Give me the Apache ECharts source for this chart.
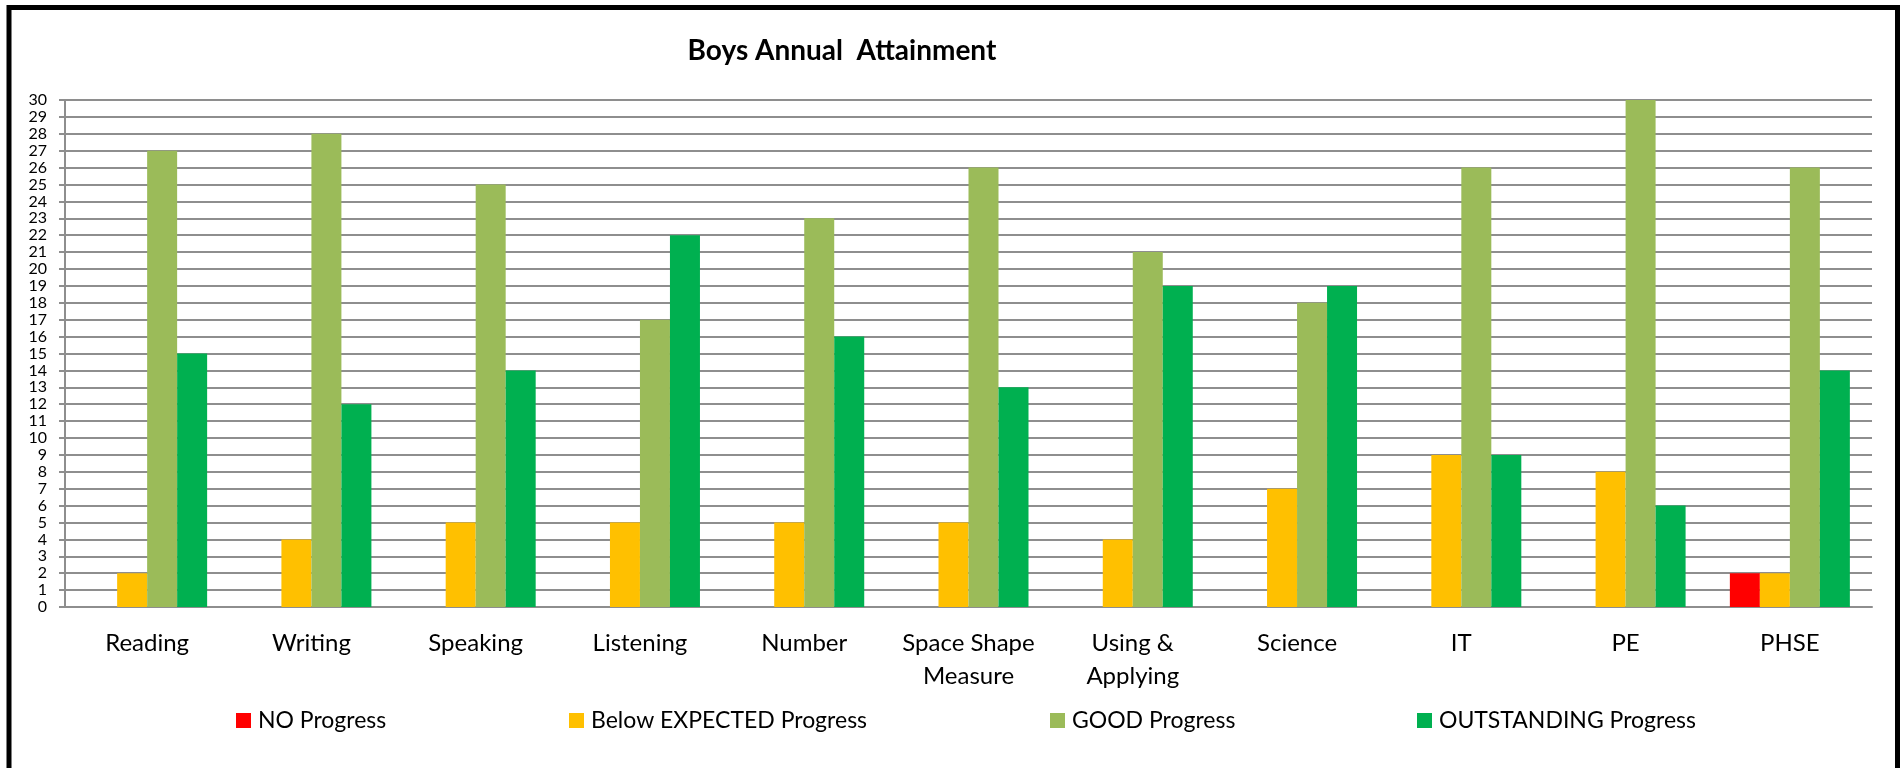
<!DOCTYPE html>
<html>
<head>
<meta charset="utf-8">
<title>Boys Annual Attainment</title>
<script src="https://cdn.jsdelivr.net/npm/echarts/dist/echarts.min.js"></script>
<style>
  html, body { margin: 0; padding: 0; background: #fff; }
  #chart { width: 1903px; height: 768px; }
</style>
</head>
<body>
<div id="chart"></div>
<script>
const categories = ['Reading', 'Writing', 'Speaking', 'Listening', 'Number', 'Space Shape\nMeasure',
  'Using &\nApplying', 'Science', 'IT', 'PE', 'PHSE']
const noProgress = [0, 0, 0, 0, 0, 0, 0, 0, 0, 0, 2]
const belowExpected = [2, 4, 5, 5, 5, 5, 4, 7, 9, 8, 2]
const goodProgress = [27, 28, 25, 17, 23, 26, 21, 18, 26, 30, 26]
const outstanding = [15, 12, 14, 22, 16, 13, 19, 19, 9, 6, 14]
const seriesNames = ['NO Progress', 'Below EXPECTED Progress', 'GOOD Progress', 'OUTSTANDING Progress']
const colors = ['#ff0000', '#ffc000', '#9bbb59', '#00b050']

const font = 'Lato, "Open Sans", sans-serif'
const gridColor = '#8e8e8e'

// legend items sit in fixed spots like the excel one
const legendLeft = [231, 564, 1045, 1412]

const chart = echarts.init(document.getElementById('chart'))

const option = {
  animation: false,
  title: {
    text: 'Boys Annual  Attainment',
    left: 837,
    top: 32,
    textAlign: 'center',
    textStyle: { fontFamily: font, fontWeight: 'bold', fontSize: 28, color: '#000' },
  },
  legend: seriesNames.map((name, i) => ({
    data: [name],
    left: legendLeft[i],
    top: 704,
    icon: 'rect',
    itemWidth: 15,
    itemHeight: 15,
    itemGap: 0,
    textStyle: { fontFamily: font, fontSize: 23, color: '#000', padding: [0, 0, 0, 2] },
  })),
  grid: { left: 65, right: 31, top: 100, bottom: 161 },
  xAxis: {
    type: 'category',
    data: categories,
    axisLine: { lineStyle: { color: gridColor, width: 2 } },
    axisTick: { show: false },
    axisLabel: { fontFamily: font, fontSize: 24, color: '#000', margin: 20, lineHeight: 33, interval: 0 },
  },
  yAxis: {
    type: 'value',
    min: 0,
    max: 30,
    interval: 1,
    axisLine: { show: true, lineStyle: { color: gridColor, width: 2 } },
    axisTick: { show: true, length: 6, lineStyle: { color: gridColor, width: 2 } },
    axisLabel: { fontFamily: font, fontSize: 16, color: '#000', margin: 18 },
    splitLine: { lineStyle: { color: gridColor, width: 2 } },
  },
  series: [noProgress, belowExpected, goodProgress, outstanding].map((data, i) => ({
    type: 'bar',
    name: seriesNames[i],
    data: data,
    barWidth: 30,
    barGap: '0%',
    itemStyle: { color: colors[i] },
  })),
  graphic: {
    elements: [
      {
        // outer chart frame, the bottom edge runs off the page
        type: 'rect',
        silent: true,
        shape: { x: 9, y: 7.5, width: 1888.5, height: 900 },
        style: { fill: 'none', stroke: '#000', lineWidth: 5 },
      },
    ],
  },
}

chart.setOption(option)
</script>
</body>
</html>
